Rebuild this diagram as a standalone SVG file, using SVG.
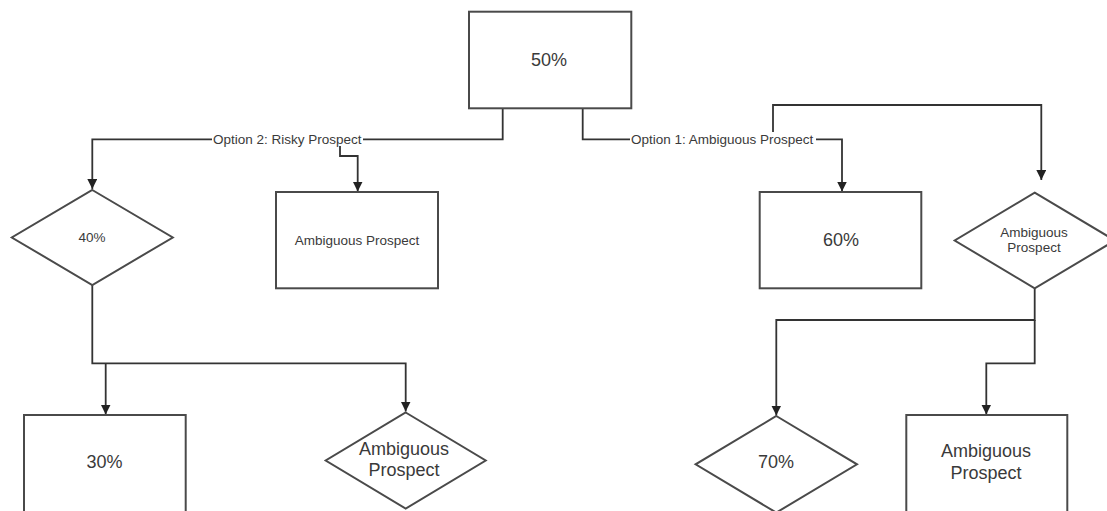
<svg xmlns="http://www.w3.org/2000/svg" width="1107" height="511" viewBox="0 0 1107 511">
  <defs>
    <marker id="arr" viewBox="0 0 10 10" refX="10" refY="5" markerWidth="10" markerHeight="10" markerUnits="userSpaceOnUse" orient="auto">
      <path d="M0,0 L10,5 L0,10 Z" fill="#222"/>
    </marker>
    <style>
      .shape { fill: #ffffff; stroke: #4a4a4a; stroke-width: 2; }
      .conn { fill: none; stroke: #333333; stroke-width: 1.8; }
      .big { font-family: "Liberation Sans", Arial, sans-serif; font-size: 18px; fill: #3a3a3a; text-anchor: middle; }
      .small { font-family: "Liberation Sans", Arial, sans-serif; font-size: 13.5px; fill: #3a3a3a; text-anchor: middle; }
      .lbl { font-family: "Liberation Sans", Arial, sans-serif; font-size: 13.5px; fill: #3a3a3a; }
    </style>
  </defs>
  <rect width="1107" height="511" fill="#ffffff"/>

  <g id="connectors">
    <!-- Option 2 -->
    <path class="conn" d="M502.7,108.3 V139.3 H92.3 V189" marker-end="url(#arr)"/>
    <path class="conn" d="M340,139.3 V156 H357.7 V191.5" marker-end="url(#arr)"/>
    <!-- Option 1 -->
    <path class="conn" d="M582.7,108.3 V139.3 H842 V191.5" marker-end="url(#arr)"/>
    <path class="conn" d="M773,133 V105 H1041.3 V180" marker-end="url(#arr)"/>
    <!-- from 40% -->
    <path class="conn" d="M92.3,285 V363.3 H405.7 V411.5" marker-end="url(#arr)"/>
    <path class="conn" d="M105.7,363.3 V414.5" marker-end="url(#arr)"/>
    <!-- from right diamond -->
    <path class="conn" d="M1034.7,288.3 V320 H776.3 V415.5" marker-end="url(#arr)"/>
    <path class="conn" d="M1034.7,320 V363.3 H986.3 V414.5" marker-end="url(#arr)"/>
    <!-- labels -->
    <rect x="212" y="132" width="151" height="14" fill="#ffffff"/>
    <text class="lbl" x="213" y="143.5">Option 2: Risky Prospect</text>
    <rect x="630" y="132" width="186" height="14" fill="#ffffff"/>
    <text class="lbl" x="631" y="143.5">Option 1: Ambiguous Prospect</text>
  </g>

  <g id="node-50">
    <rect class="shape" x="469" y="11.7" width="162.3" height="96.6"/>
    <text class="big" x="549" y="66.4">50%</text>
  </g>

  <g id="node-40">
    <polygon class="shape" points="92.3,190 172.8,237.5 92.3,285 11.8,237.5"/>
    <text class="small" x="92" y="242">40%</text>
  </g>

  <g id="node-ap-top-left">
    <rect class="shape" x="276" y="192" width="162" height="96.3"/>
    <text class="small" x="357" y="245">Ambiguous Prospect</text>
  </g>

  <g id="node-60">
    <rect class="shape" x="759.7" y="192" width="161.6" height="96.3"/>
    <text class="big" x="841" y="246.4">60%</text>
  </g>

  <g id="node-ap-top-right">
    <polygon class="shape" points="1034.7,192.7 1115,240.5 1034.7,288.3 954.7,240.5"/>
    <text class="small" x="1034" y="236.7">Ambiguous</text>
    <text class="small" x="1034" y="252.3">Prospect</text>
  </g>

  <g id="node-30">
    <rect class="shape" x="24" y="415" width="161.7" height="110"/>
    <text class="big" x="104.5" y="468.3">30%</text>
  </g>

  <g id="node-ap-bottom-mid">
    <polygon class="shape" points="405.7,412.5 485.7,460.5 405.7,508.5 325.7,460.5"/>
    <text class="big" x="404" y="455">Ambiguous</text>
    <text class="big" x="404" y="476">Prospect</text>
  </g>

  <g id="node-70">
    <polygon class="shape" points="776.3,416 857,464.3 776.3,512.6 695.6,464.3"/>
    <text class="big" x="776" y="468.3">70%</text>
  </g>

  <g id="node-ap-bottom-right">
    <rect class="shape" x="906.3" y="415" width="161" height="110"/>
    <text class="big" x="986" y="457.3">Ambiguous</text>
    <text class="big" x="986" y="479">Prospect</text>
  </g>
</svg>
